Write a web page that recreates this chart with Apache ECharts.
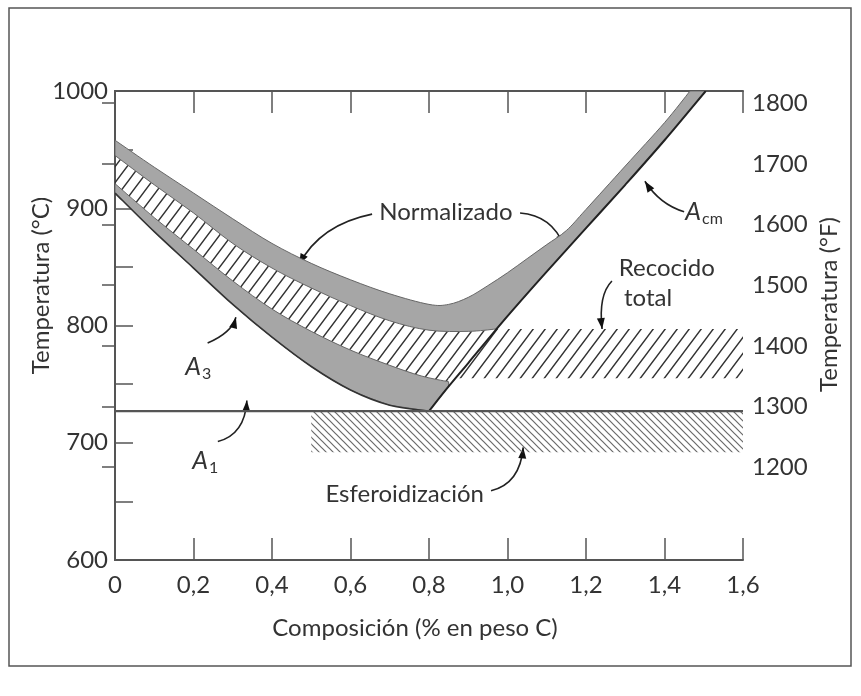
<!DOCTYPE html>
<html>
<head>
<meta charset="utf-8">
<script src="https://cdn.jsdelivr.net/npm/echarts@6/dist/echarts.min.js"></script>
<style>html,body{margin:0;padding:0;background:#fff;}#c{width:861px;height:696px;}</style>
</head>
<body>
<div id="c"></div>
<script>
// ---- data (composition in wt% C, temperature in °C) ----
const fTickValues = [1200, 1300, 1400, 1500, 1600, 1700, 1800];

const normTopX = [0, 0.1, 0.2, 0.3, 0.4, 0.5, 0.6, 0.7, 0.8, 0.85, 0.9, 0.95, 1.0, 1.05, 1.1, 1.15, 1.2, 1.3, 1.4, 1.465];
const normTopT = [958, 935, 913, 891, 870, 853, 839, 827, 818, 818, 824, 834, 845, 857, 869, 881, 899, 936, 973, 1000];
const normBotX = [0, 0.1, 0.2, 0.3, 0.4, 0.5, 0.6, 0.7, 0.8, 0.9, 0.97];
const normBotT = [945, 920, 896, 870, 849, 832, 817, 804, 796, 795, 797];
const acmX = [0.8, 0.85, 0.9, 1.0, 1.1, 1.2, 1.3, 1.4, 1.505];
const acmT = [727, 748, 768, 808, 846, 883, 920, 958, 1000];
const lowTopX = [0, 0.1, 0.2, 0.3, 0.4, 0.5, 0.6, 0.7, 0.78, 0.85];
const lowTopT = [921, 892, 865, 838, 814, 795, 779, 766, 757, 752];
const a3X = [0, 0.1, 0.2, 0.3, 0.4, 0.5, 0.6, 0.7, 0.8];
const a3T = [913, 880, 849, 818, 790, 765, 745, 732, 727];
const recocidoX = [0.85, 1.6];
const recocidoT = [755, 797];
const esferoX = [0.5, 1.6];
const esferoT = [692, 727];
const a1X = [0, 1.6];
const a1T = 727;

// annotation anchors in data units [x, T]
const annotations = [
  {text: 'Normalizado', at: [0.843, 897]},
  {text: 'Recocido', at: [1.406, 849]},
  {text: 'total', at: [1.358, 823.5]},
  {text: 'Esferoidización', at: [0.738, 656]},
];
const symbols = [
  {main: 'A', sub: 'cm', at: [1.493, 896.8]},
  {main: 'A', sub: '3', at: [0.219, 764.6]},
  {main: 'A', sub: '1', at: [0.237, 684.4]},
];
const arrows = [
  [[0.655, 895], [0.522, 886], [0.469, 852]],
  [[1.032, 896], [1.113, 894], [1.144, 868]],
  [[1.450, 897], [1.389, 903], [1.350, 923]],
  [[1.266, 838], [1.231, 826], [1.241, 797]],
  [[0.236, 785], [0.298, 794], [0.308, 807]],
  [[0.262, 701], [0.331, 707], [0.336, 736]],
  [[0.958, 659], [1.032, 665], [1.040, 696]],
];

const zip = (xs, ts) => xs.map((x, i) => [x, ts[i]]);
// shapes as pieces: [points, smooth?]
const normShape = [
  [zip(normTopX, normTopT), true],
  [zip(acmX, acmT).filter(p => p[0] >= 0.97).reverse(), true],
  [zip(normBotX, normBotT).reverse(), true]
];
const hatchShape = [
  [zip(normBotX, normBotT), true],
  [[[recocidoX[1], recocidoT[1]], [recocidoX[1], recocidoT[0]], [recocidoX[0], recocidoT[0]]], false],
  [zip(lowTopX, lowTopT).reverse(), true]
];
const lowShape = [
  [zip(lowTopX, lowTopT), true],
  [zip(acmX, acmT).filter(p => p[0] <= 0.85).reverse(), false],
  [zip(a3X, a3T).reverse().slice(1), true]
];
const esferoShape = [
  [[[esferoX[0], esferoT[1]], [esferoX[1], esferoT[1]], [esferoX[1], esferoT[0]], [esferoX[0], esferoT[0]]], false]
];

function hatch(w, h, color, lw, dir) {
  const c = document.createElement('canvas');
  c.width = w; c.height = h;
  const g = c.getContext('2d');
  g.strokeStyle = color; g.lineWidth = lw;
  g.beginPath();
  const k = 3;
  if (dir === '/') {
    for (const [ox, oy] of [[0, 0], [-w, 0], [w, 0], [0, -h], [0, h]]) {
      g.moveTo(ox - w / k, oy + h + h / k); g.lineTo(ox + w + w / k, oy - h / k);
    }
  } else {
    for (const [ox, oy] of [[0, 0], [-w, 0], [w, 0], [0, -h], [0, h]]) {
      g.moveTo(ox - w / k, oy - h / k); g.lineTo(ox + w + w / k, oy + h + h / k);
    }
  }
  g.stroke();
  return {image: c, repeat: 'repeat'};
}

// builds SVG path data from pixel pieces (Catmull-Rom rendering for smooth pieces)
function buildPath(pieces, api, close) {
  let d = '';
  let first = true;
  pieces.forEach(([pts, smooth]) => {
    const P = pts.map(p => api.coord(p));
    if (first) { d += 'M' + P[0][0] + ' ' + P[0][1]; first = false; }
    else d += 'L' + P[0][0] + ' ' + P[0][1];
    for (let i = 0; i < P.length - 1; i++) {
      const p1 = P[i], p2 = P[i + 1];
      if (smooth) {
        const p0 = P[i - 1] || p1, p3 = P[i + 2] || p2;
        const c1 = [p1[0] + (p2[0] - p0[0]) / 6, p1[1] + (p2[1] - p0[1]) / 6];
        const c2 = [p2[0] - (p3[0] - p1[0]) / 6, p2[1] - (p3[1] - p1[1]) / 6];
        d += 'C' + c1[0] + ' ' + c1[1] + ' ' + c2[0] + ' ' + c2[1] + ' ' + p2[0] + ' ' + p2[1];
      } else {
        d += 'L' + p2[0] + ' ' + p2[1];
      }
    }
  });
  if (close) d += 'Z';
  return d;
}

function shapeSeries(name, pieces, style, close) {
  return {
    type: 'custom', name, coordinateSystem: 'cartesian2d', clip: true, silent: true,
    data: [pieces[0][0][0]],
    renderItem: (params, api) => ({
      type: 'path',
      shape: {pathData: buildPath(pieces, api, close)},
      style: Object.assign({fill: null}, style)
    })
  };
}

const FONT = 'Lato, "Open Sans", sans-serif';
const FS = 24;
const TXT = '#333';
const chart = echarts.init(document.getElementById('c'), null, {renderer: 'canvas'});
const axisLine = {show: true, lineStyle: {color: '#555', width: 2}};
const fmtX = v => v === 0 ? '0' : v.toFixed(1).replace('.', ',');

chart.setOption({
  animation: false,
  backgroundColor: '#fff',
  grid: {left: 115, right: 118, top: 91, bottom: 136, containLabel: false},
  xAxis: [
    {type: 'value', position: 'bottom', min: 0, max: 1.6, interval: 0.2,
      axisLine, splitLine: {show: false},
      axisTick: {inside: true, length: 22, lineStyle: {color: '#555', width: 1.5}},
      axisLabel: {formatter: fmtX, fontSize: FS, fontFamily: FONT, color: TXT, margin: 13},
      name: 'Composición (% en peso C)', nameLocation: 'middle', nameGap: 56, nameMoveOverlap: false,
      nameTextStyle: {fontSize: FS, fontFamily: FONT, color: TXT, padding: [0, 28, 0, 0]}},
    {type: 'value', position: 'top', min: 0, max: 1.6, interval: 0.2,
      axisLine, splitLine: {show: false},
      axisTick: {inside: true, length: 22, lineStyle: {color: '#555', width: 1.5}},
      axisLabel: {show: false}}
  ],
  yAxis: [
    {type: 'value', position: 'left', min: 600, max: 1000, interval: 50,
      axisLine, splitLine: {show: false},
      axisTick: {inside: true, length: 18, lineStyle: {color: '#555', width: 1.5}},
      axisLabel: {formatter: v => (v % 100 === 0 ? String(v) : ''), fontSize: FS, fontFamily: FONT, color: TXT, margin: 7},
      name: 'Temperatura (°C)', nameLocation: 'middle', nameGap: 62, nameRotate: 90, nameMoveOverlap: false,
      nameTextStyle: {fontSize: FS, fontFamily: FONT, color: TXT, padding: [0, 0, 0, 80]}},
    {type: 'value', position: 'right', min: 1047, max: 1820,
      axisLine, splitLine: {show: false},
      axisTick: {inside: true, length: 13, customValues: fTickValues, lineStyle: {color: '#555', width: 1.5}},
      axisLabel: {customValues: fTickValues, formatter: v => String(v), fontSize: FS, fontFamily: FONT, color: TXT, margin: 9},
      name: 'Temperatura (°F)', nameLocation: 'middle', nameGap: 74, nameRotate: 90, nameMoveOverlap: false,
      nameTextStyle: {fontSize: FS, fontFamily: FONT, color: TXT, padding: [0, 0, 0, 42]}}
  ],
  series: [
    shapeSeries('Recocido total', hatchShape, {fill: hatch(12, 16, '#333', 1.4, '/')}, true),
    shapeSeries('Normalizado', normShape, {fill: '#a6a6a6', stroke: '#666', lineWidth: 1}, true),
    shapeSeries('Banda inferior', lowShape, {fill: '#a6a6a6', stroke: '#666', lineWidth: 1}, true),
    shapeSeries('Esferoidización', esferoShape, {fill: hatch(7, 7, '#6a6a6a', 1.2, '\\')}, true),
    {type: 'line', name: 'A1', data: a1X.map(x => [x, a1T]), symbol: 'none', silent: true,
      lineStyle: {color: '#555', width: 2.2}},
    shapeSeries('A3', [[zip(a3X, a3T), true]], {stroke: '#333', lineWidth: 1.6}, false),
    shapeSeries('Acm', [[zip(acmX, acmT), true]], {stroke: '#222', lineWidth: 2}, false)
  ]
});

// annotations
const px = p => chart.convertToPixel({xAxisIndex: 0, yAxisIndex: 0}, p);
const g = [{type: 'rect', shape: {x: 9, y: 8, width: 842, height: 658}, style: {fill: null, stroke: '#555', lineWidth: 1.5}, silent: true}];
annotations.forEach(a => {
  const [x, y] = px(a.at);
  g.push({type: 'text', x, y, style: {text: a.text, fontSize: FS, fontFamily: FONT, fill: TXT, align: 'center', verticalAlign: 'middle'}, silent: true});
});
symbols.forEach(s => {
  const [x, y] = px(s.at);
  g.push({type: 'text', x: x, y, style: {text: s.main, fontSize: 25, fontStyle: 'italic', fontFamily: FONT, fill: TXT, align: 'right', verticalAlign: 'middle'}, silent: true});
  g.push({type: 'text', x: x + 1, y: y + 7, style: {text: s.sub, fontSize: 16, fontFamily: FONT, fill: TXT, align: 'left', verticalAlign: 'middle'}, silent: true});
});
arrows.forEach(a => {
  const [s, c, e] = a.map(px);
  g.push({type: 'bezierCurve', shape: {x1: s[0], y1: s[1], cpx1: c[0], cpy1: c[1], x2: e[0], y2: e[1]}, style: {stroke: '#222', lineWidth: 1.6, fill: null}, silent: true});
  let dx = e[0] - c[0], dy = e[1] - c[1];
  const L = Math.hypot(dx, dy) || 1; dx /= L; dy /= L;
  const bx = e[0] - dx * 11, by = e[1] - dy * 11;
  g.push({type: 'polygon', shape: {points: [[e[0], e[1]], [bx - dy * 4, by + dx * 4], [bx + dy * 4, by - dx * 4]]}, style: {fill: '#111'}, silent: true});
});
chart.setOption({graphic: g});
</script>
</body>
</html>
